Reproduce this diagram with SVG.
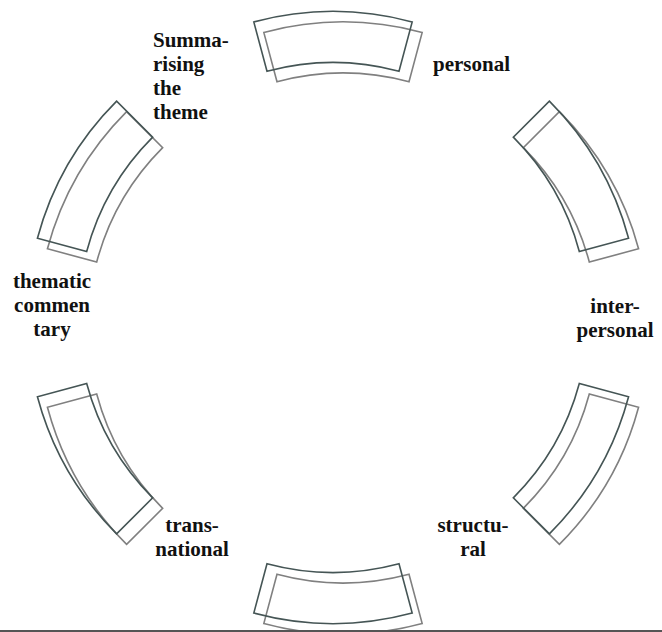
<svg xmlns="http://www.w3.org/2000/svg" xmlns:xlink="http://www.w3.org/1999/xlink" width="662" height="632" viewBox="0 0 662 632">
<style>
.dark{fill:none;stroke:#455555;stroke-width:1.6}
.light{fill:none;stroke:#808080;stroke-width:1.6}
.lbl{font-family:"Liberation Serif","Times New Roman",serif;font-weight:bold;font-size:21px;fill:#111}
.c{text-anchor:middle}
</style>
<defs>
<path id="seg" d="M-79.2,-295.57 A306,306 0 0 1 79.2,-295.57 L66,-246.31 A255,255 0 0 0 -66,-246.31 Z"/>
</defs>
<rect width="662" height="632" fill="#fff"/>
<g id="node-personal">
<use xlink:href="#seg" class="light" transform="translate(343,328) rotate(0)"/>
<use xlink:href="#seg" class="dark" transform="translate(333,317.5) rotate(0)"/>
<text class="lbl" x="433" y="71">personal</text>
</g>
<g id="node-interpersonal">
<use xlink:href="#seg" class="light" transform="translate(343,328) rotate(60)"/>
<use xlink:href="#seg" class="dark" transform="translate(333,317.5) rotate(60)"/>
<text class="lbl c" x="615" y="313">inter-</text>
<text class="lbl c" x="615" y="337">personal</text>
</g>
<g id="node-structural">
<use xlink:href="#seg" class="light" transform="translate(343,328) rotate(120)"/>
<use xlink:href="#seg" class="dark" transform="translate(333,317.5) rotate(120)"/>
<text class="lbl c" x="473" y="532">structu-</text>
<text class="lbl c" x="473" y="556">ral</text>
</g>
<g id="node-bottom">
<use xlink:href="#seg" class="light" transform="translate(343,328) rotate(180)"/>
<use xlink:href="#seg" class="dark" transform="translate(333,317.5) rotate(180)"/>
</g>
<g id="node-transnational">
<use xlink:href="#seg" class="light" transform="translate(343,328) rotate(240)"/>
<use xlink:href="#seg" class="dark" transform="translate(333,317.5) rotate(240)"/>
<text class="lbl c" x="192" y="532">trans-</text>
<text class="lbl c" x="192" y="556">national</text>
</g>
<g id="node-thematic">
<use xlink:href="#seg" class="light" transform="translate(343,328) rotate(300)"/>
<use xlink:href="#seg" class="dark" transform="translate(333,317.5) rotate(300)"/>
<text class="lbl c" x="52" y="288">thematic</text>
<text class="lbl c" x="52" y="312">commen</text>
<text class="lbl c" x="52" y="336">tary</text>
</g>
<g id="node-summarising">
<text class="lbl" x="153" y="47">Summa-</text>
<text class="lbl" x="153" y="71">rising</text>
<text class="lbl" x="153" y="95">the</text>
<text class="lbl" x="153" y="119">theme</text>
</g>
<g id="connectors">
<line x1="0" y1="631" x2="662" y2="631" stroke="#555" stroke-width="2"/>
</g>
</svg>
